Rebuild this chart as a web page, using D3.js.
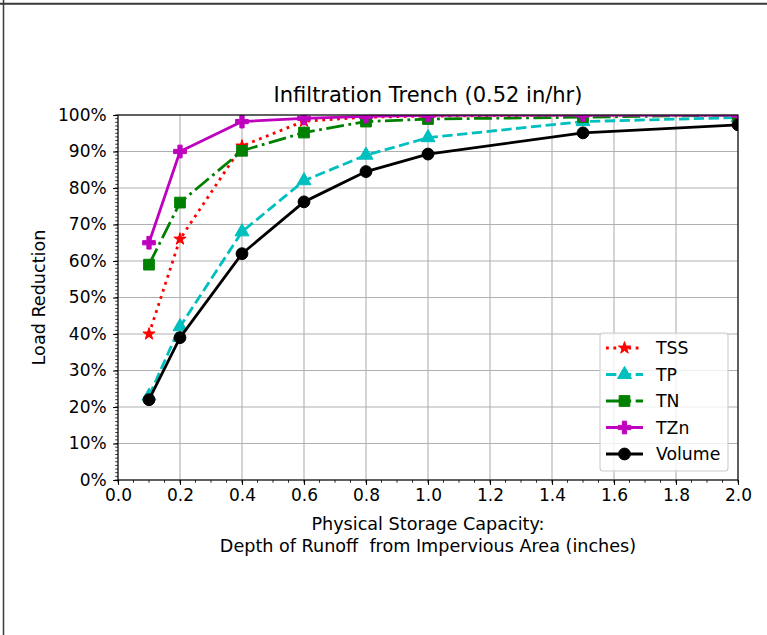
<!DOCTYPE html>
<meta charset="utf-8">
<script src="https://d3js.org/d3.v7.min.js"></script>
<style>
  body { margin: 0; background: #fff; }
  text { font-family: "DejaVu Sans", sans-serif; fill: #000; }
</style>
<div id="chart"></div>
<script>

// storage depth (inches)
var depths = [0.1, 0.2, 0.4, 0.6, 0.8, 1.0, 1.5, 2.0];

// load reduction (%) per constituent
var tss    = [40, 66, 91.5, 98.3, 99.4, 99.7, 100, 100];
var tp     = [23, 42, 68, 82, 89, 93.8, 98.2, 99.3];
var tn     = [59, 76, 90.2, 95.2, 98.2, 98.9, 99.4, 100];
var tzn    = [65, 90, 98.2, 99.1, 99.6, 99.9, 100, 100];
var volume = [22, 39, 62, 76.2, 84.5, 89.3, 95.1, 97.3];

var xTicks = [0, 0.2, 0.4, 0.6, 0.8, 1.0, 1.2, 1.4, 1.6, 1.8, 2.0];
var yTicks = [0, 10, 20, 30, 40, 50, 60, 70, 80, 90, 100];

var seriesNames = ["TSS", "TP", "TN", "TZn", "Volume"];
var seriesValues = [tss, tp, tn, tzn, volume];

// line styles, matplotlib-ish
var lw = 2.8;
var styles = {
  "TSS":    {color: "#ff0000", dash: [lw, 1.65 * lw].join(","), sym: d3.symbolStar, size: 46, cap: "butt"},
  "TP":     {color: "#00bfbf", dash: [3.7 * lw, 1.6 * lw].join(","), sym: d3.symbolTriangle, size: 85, cap: "butt"},
  "TN":     {color: "#008000", dash: [6.4 * lw, 1.6 * lw, lw, 1.6 * lw].join(","), sym: d3.symbolSquare, size: 115, cap: "butt"},
  "TZn":    {color: "#bf00bf", dash: null, sym: d3.symbolCross, size: 90, cap: "square"},
  "Volume": {color: "#000000", dash: null, sym: d3.symbolCircle, size: 110, cap: "square"}
};

var W = 767, H = 635;
var pL = 118, pR = 738, pT = 115, pB = 480;
var tickFont = 17, labelFont = 17.6;

var svg = d3.select("#chart").append("svg")
  .attr("width", W)
  .attr("height", H);

// the frame edges from the screenshot
svg.append("line").attr("x1", 0).attr("x2", W).attr("y1", 3.7).attr("y2", 3.7)
  .attr("stroke", "#3a3a3a").attr("stroke-width", 2);
svg.append("line").attr("x1", 3.5).attr("x2", 3.5).attr("y1", 0).attr("y2", H)
  .attr("stroke", "#3a3a3a").attr("stroke-width", 1.5);

var x = d3.scaleLinear().domain([0, 2]).range([pL, pR]);
var y = d3.scaleLinear().domain([0, 100]).range([pB, pT]);

// grid
svg.append("g").selectAll("line").data(xTicks).enter().append("line")
  .attr("x1", function(d) { return x(d); }).attr("x2", function(d) { return x(d); })
  .attr("y1", pT).attr("y2", pB)
  .attr("stroke", "#b0b0b0").attr("stroke-width", 1.1);
svg.append("g").selectAll("line").data(yTicks).enter().append("line")
  .attr("y1", function(d) { return y(d); }).attr("y2", function(d) { return y(d); })
  .attr("x1", pL).attr("x2", pR)
  .attr("stroke", "#b0b0b0").attr("stroke-width", 1.1);

// clip for data
svg.append("clipPath").attr("id", "clip").append("rect")
  .attr("x", pL).attr("y", pT).attr("width", pR - pL).attr("height", pB - pT);

var plot = svg.append("g").attr("clip-path", "url(#clip)");

var line = d3.line()
  .x(function(d) { return x(d[0]); })
  .y(function(d) { return y(d[1]); });

seriesNames.forEach(function(name, i) {
  var st = styles[name];
  var pts = depths.map(function(d, j) { return [d, seriesValues[i][j]]; });
  plot.append("path")
    .datum(pts)
    .attr("d", line)
    .attr("fill", "none")
    .attr("stroke", st.color)
    .attr("stroke-width", lw)
    .attr("stroke-dasharray", st.dash)
    .attr("stroke-linecap", st.cap)
    .attr("stroke-linejoin", "round");
  plot.append("g").selectAll("path").data(pts).enter().append("path")
    .attr("d", d3.symbol().type(st.sym).size(st.size))
    .attr("transform", function(d) { return "translate(" + x(d[0]) + "," + y(d[1]) + ")"; })
    .attr("fill", st.color)
    .attr("stroke", st.color)
    .attr("stroke-width", 1);
});

// axes
var xAxis = d3.axisBottom(x).tickValues(xTicks).tickFormat(d3.format(".1f"))
  .tickSizeInner(4.9).tickSizeOuter(0).tickPadding(4.5);
var gx = svg.append("g").attr("transform", "translate(0," + pB + ")").call(xAxis);

var yAxis = d3.axisLeft(y).tickValues(yTicks).tickFormat(function(d) { return d + "%"; })
  .tickSizeInner(4.9).tickSizeOuter(0).tickPadding(6.5);
var gy = svg.append("g").attr("transform", "translate(" + pL + ",0)").call(yAxis);

[gx, gy].forEach(function(g) {
  g.select(".domain").remove();
  g.selectAll("line").attr("stroke", "#000").attr("stroke-width", 1.1);
  g.selectAll("text").attr("font-family", "DejaVu Sans").attr("font-size", tickFont).attr("fill", "#000");
});

// minor ticks
var xMinor = d3.range(0, 2.001, 0.05);
svg.append("g").selectAll("line").data(xMinor).enter().append("line")
  .attr("x1", function(d) { return x(d); }).attr("x2", function(d) { return x(d); })
  .attr("y1", pB).attr("y2", pB + 2.8)
  .attr("stroke", "#000").attr("stroke-width", 0.8);
var yMinor = d3.range(0, 100.5, 1);
svg.append("g").selectAll("line").data(yMinor).enter().append("line")
  .attr("y1", function(d) { return y(d); }).attr("y2", function(d) { return y(d); })
  .attr("x1", pL).attr("x2", pL - 2.8)
  .attr("stroke", "#000").attr("stroke-width", 0.8);

// spines
svg.append("rect")
  .attr("x", pL).attr("y", pT).attr("width", pR - pL).attr("height", pB - pT)
  .attr("fill", "none").attr("stroke", "#000").attr("stroke-width", 1.1);

// title and labels
svg.append("text")
  .attr("x", (pL + pR) / 2).attr("y", 102)
  .attr("text-anchor", "middle").attr("font-size", 21)
  .text("Infiltration Trench (0.52 in/hr)");

svg.append("text")
  .attr("x", (pL + pR) / 2).attr("y", 530)
  .attr("text-anchor", "middle").attr("font-size", labelFont)
  .text("Physical Storage Capacity:");
svg.append("text")
  .attr("x", (pL + pR) / 2).attr("y", 552)
  .attr("text-anchor", "middle").attr("font-size", labelFont)
  .style("white-space", "pre")
  .text("Depth of Runoff  from Impervious Area (inches)");

svg.append("text")
  .attr("transform", "translate(45," + (pT + pB) / 2 + ") rotate(-90)")
  .attr("text-anchor", "middle").attr("font-size", labelFont)
  .text("Load Reduction");

// legend
var lg = svg.append("g");
lg.append("rect")
  .attr("x", 600).attr("y", 333).attr("width", 128).attr("height", 138)
  .attr("rx", 3)
  .attr("fill", "#fff").attr("fill-opacity", 0.8)
  .attr("stroke", "#cccccc").attr("stroke-width", 1.1);

seriesNames.forEach(function(name, i) {
  var st = styles[name];
  var ly = 348 + i * 26.5;
  lg.append("line")
    .attr("x1", 606).attr("x2", 643).attr("y1", ly).attr("y2", ly)
    .attr("stroke", st.color).attr("stroke-width", lw)
    .attr("stroke-dasharray", st.dash)
    .attr("stroke-linecap", "butt");
  lg.append("path")
    .attr("d", d3.symbol().type(st.sym).size(st.size))
    .attr("transform", "translate(624.5," + ly + ")")
    .attr("fill", st.color).attr("stroke", st.color).attr("stroke-width", 1);
  lg.append("text")
    .attr("x", 656).attr("y", ly).attr("dy", "0.35em")
    .attr("font-size", 17.3)
    .text(name);
});

</script>
